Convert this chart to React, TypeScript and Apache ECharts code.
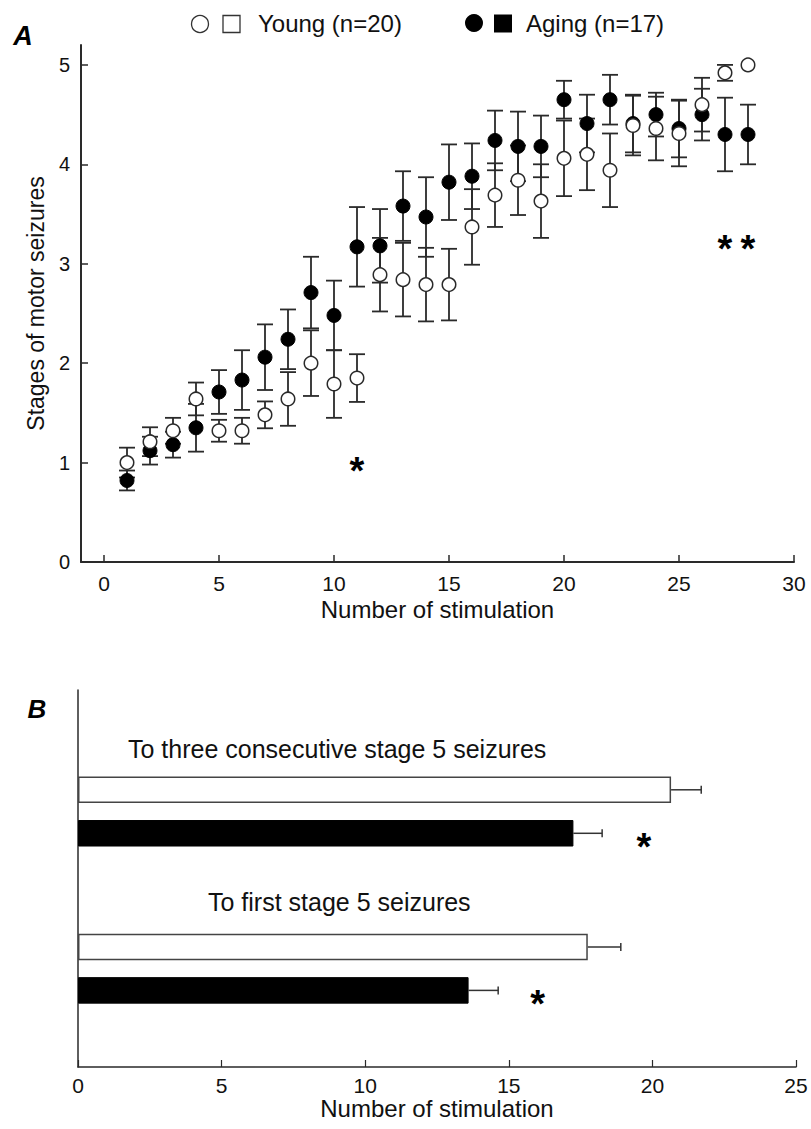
import React, { useEffect, useRef } from "react";
import * as echarts from "echarts";

// ---------- Panel A data ----------
const stimulations = [1, 2, 3, 4, 5, 6, 7, 8, 9, 10, 11, 12, 13, 14, 15, 16, 17, 18, 19, 20, 21, 22, 23, 24, 25, 26, 27, 28];
const youngMean = [1.0, 1.21, 1.32, 1.64, 1.32, 1.32, 1.48, 1.64, 2.0, 1.79, 1.85, 2.89, 2.84, 2.79, 2.79, 3.37, 3.69, 3.84, 3.63, 4.06, 4.1, 3.94, 4.39, 4.36, 4.31, 4.6, 4.92, 5.0];
const youngSem = [0.15, 0.145, 0.13, 0.165, 0.11, 0.13, 0.135, 0.27, 0.33, 0.34, 0.24, 0.37, 0.37, 0.37, 0.36, 0.38, 0.32, 0.35, 0.37, 0.38, 0.36, 0.37, 0.3, 0.32, 0.33, 0.27, 0.08, 0];
const agingMean = [0.82, 1.12, 1.18, 1.35, 1.71, 1.83, 2.06, 2.24, 2.71, 2.48, 3.17, 3.18, 3.58, 3.47, 3.82, 3.88, 4.24, 4.18, 4.18, 4.65, 4.41, 4.65, 4.41, 4.5, 4.36, 4.5, 4.3, 4.3];
const agingSem = [0.1, 0.14, 0.13, 0.24, 0.22, 0.3, 0.33, 0.3, 0.36, 0.35, 0.4, 0.37, 0.35, 0.4, 0.38, 0.33, 0.3, 0.35, 0.31, 0.19, 0.29, 0.25, 0.29, 0.22, 0.29, 0.26, 0.37, 0.3];
const starsA = [[11, 1.0], [27, 3.23], [28, 3.23]];
const xTicksA = [0, 5, 10, 15, 20, 25, 30];
const yTicksA = [0, 1, 2, 3, 4, 5];

// ---------- Panel B data ----------
const groupsB = ["To three consecutive stage 5 seizures", "To first stage 5 seizures"];
const youngB = [20.65, 17.75];
const youngBErr = [1.05, 1.15];
const agingB = [17.25, 13.6];
const agingBErr = [1.0, 1.03];
const starsBx = [19.7, 16.0];

const FONT = "'Liberation Sans', Arial, Helvetica, sans-serif";
const INK = "#2a2a2a";

export default function App() {
  const ref = useRef<HTMLDivElement>(null);
  useEffect(() => {
    document.body.style.margin = "0";
    const chart = echarts.init(ref.current!, null, { renderer: "svg" });

    const errA = (means: number[], sems: number[]) =>
      stimulations.map((s, i) => [s, means[i], sems[i]]);

    const errRender = (params: any, api: any) => {
      const x = api.value(0);
      const m = api.value(1);
      const e = api.value(2);
      if (!e) return { type: "group", children: [] };
      const top = api.coord([x, m + e]);
      const bot = api.coord([x, m - e]);
      const hw = 8;
      const st = { stroke: INK, lineWidth: 1.8 };
      return {
        type: "group",
        children: [
          { type: "line", shape: { x1: top[0], y1: top[1], x2: bot[0], y2: bot[1] }, style: st },
          { type: "line", shape: { x1: top[0] - hw, y1: top[1], x2: top[0] + hw, y2: top[1] }, style: st },
          { type: "line", shape: { x1: bot[0] - hw, y1: bot[1], x2: bot[0] + hw, y2: bot[1] }, style: st },
        ],
      };
    };

    const PAIR_OFFSET = 21.75;
    const errBRender = (sign: number) => (params: any, api: any) => {
      const v = api.value(0);
      const e = api.value(1);
      const c = api.value(2);
      const p0 = api.coord([v, c]);
      const p1 = api.coord([v + e, c]);
      const y = p0[1] + sign * PAIR_OFFSET;
      const st = { stroke: "#333", lineWidth: 1.5 };
      return {
        type: "group",
        children: [
          { type: "line", shape: { x1: p0[0], y1: y, x2: p1[0], y2: y }, style: st },
          { type: "line", shape: { x1: p1[0], y1: y - 4, x2: p1[0], y2: y + 4 }, style: st },
        ],
      };
    };

    const starStyle = (txt: string) => ({
      text: txt,
      fontSize: 38,
      fontWeight: "bold",
      fontFamily: FONT,
      fill: "#000",
      align: "center",
      verticalAlign: "middle",
    });

    const option: any = {
      animation: false,
      backgroundColor: "#fff",
      textStyle: { fontFamily: FONT },
      grid: [
        { left: 81, right: 17, top: 45, bottom: 567 },
        { left: 78, right: 15, top: 690, bottom: 62 },
        { left: 78, right: 15, top: 733, bottom: 81.8 },
      ],
      xAxis: [
        {
          gridIndex: 0,
          type: "value",
          min: -1,
          max: 30,
          splitLine: { show: false },
          axisLine: { onZero: false, lineStyle: { color: INK, width: 2 } },
          axisTick: { inside: true, length: 7, customValues: xTicksA, lineStyle: { color: INK, width: 1.5 } },
          axisLabel: { customValues: xTicksA, color: "#111", fontSize: 21, margin: 11 },
          name: "Number of stimulation",
          nameLocation: "middle",
          nameGap: 35,
          nameTextStyle: { fontSize: 24, color: "#111", fontFamily: FONT },
        },
        {
          gridIndex: 1,
          type: "value",
          min: 0,
          max: 25,
          interval: 5,
          splitLine: { show: false },
          axisLine: { onZero: false, lineStyle: { color: INK, width: 1.5 } },
          axisTick: { inside: true, length: 7, lineStyle: { color: INK, width: 1.2 } },
          axisLabel: { color: "#111", fontSize: 21, margin: 8 },
          name: "Number of stimulation",
          nameLocation: "middle",
          nameGap: 27,
          nameTextStyle: { fontSize: 24, color: "#111", fontFamily: FONT },
        },
        {
          gridIndex: 2,
          type: "value",
          min: 0,
          max: 25,
          show: false,
        },
      ],
      yAxis: [
        {
          gridIndex: 0,
          type: "value",
          min: 0,
          max: 5.2,
          splitLine: { show: false },
          axisLine: { show: true, onZero: false, lineStyle: { color: INK, width: 2 } },
          axisTick: { show: true, inside: true, length: 7, customValues: yTicksA, lineStyle: { color: INK, width: 1.5 } },
          axisLabel: { customValues: yTicksA, color: "#111", fontSize: 20, margin: 11 },
          name: "Stages of motor seizures",
          nameLocation: "middle",
          nameGap: 33,
          nameTextStyle: { fontSize: 23, color: "#111" },
        },
        {
          gridIndex: 1,
          type: "value",
          min: 0,
          max: 1,
          splitLine: { show: false },
          axisLine: { show: true, onZero: false, lineStyle: { color: INK, width: 1.5 } },
          axisTick: { show: false },
          axisLabel: { show: false },
        },
        {
          gridIndex: 2,
          type: "category",
          inverse: true,
          data: groupsB,
          show: false,
        },
      ],
      series: [
        {
          type: "custom",
          name: "Aging SEM",
          xAxisIndex: 0,
          yAxisIndex: 0,
          renderItem: errRender,
          data: errA(agingMean, agingSem),
          z: 1,
        },
        {
          type: "custom",
          name: "Young SEM",
          xAxisIndex: 0,
          yAxisIndex: 0,
          renderItem: errRender,
          data: errA(youngMean, youngSem),
          z: 1,
        },
        {
          type: "scatter",
          name: "Aging (n=17)",
          xAxisIndex: 0,
          yAxisIndex: 0,
          symbol: "circle",
          symbolSize: 14,
          itemStyle: { color: "#000", borderColor: "#000", borderWidth: 1, opacity: 1 },
          data: stimulations.map((s, i) => [s, agingMean[i]]),
          z: 3,
        },
        {
          type: "scatter",
          name: "Young (n=20)",
          xAxisIndex: 0,
          yAxisIndex: 0,
          symbol: "circle",
          symbolSize: 13.5,
          itemStyle: { color: "#fff", borderColor: INK, borderWidth: 1.5, opacity: 1 },
          data: stimulations.map((s, i) => [s, youngMean[i]]),
          z: 4,
        },
        {
          type: "custom",
          name: "Significance A",
          xAxisIndex: 0,
          yAxisIndex: 0,
          renderItem: (params: any, api: any) => {
            const p = api.coord([api.value(0), api.value(1)]);
            return { type: "text", x: p[0], y: p[1] + 8, style: starStyle("*") };
          },
          data: starsA,
          z: 5,
        },
        {
          type: "bar",
          name: "Young B",
          xAxisIndex: 2,
          yAxisIndex: 2,
          data: youngB,
          barWidth: 26.5,
          barGap: "64%",
          itemStyle: { color: "#fff", borderColor: "#444", borderWidth: 1.5 },
        },
        {
          type: "bar",
          name: "Aging B",
          xAxisIndex: 2,
          yAxisIndex: 2,
          data: agingB,
          barWidth: 26.5,
          barGap: "64%",
          itemStyle: { color: "#000", borderColor: "#000", borderWidth: 1 },
        },
        {
          type: "custom",
          name: "Young B SEM",
          xAxisIndex: 2,
          yAxisIndex: 2,
          renderItem: errBRender(-1),
          data: youngB.map((v, i) => [v, youngBErr[i], i]),
        },
        {
          type: "custom",
          name: "Aging B SEM",
          xAxisIndex: 2,
          yAxisIndex: 2,
          renderItem: errBRender(1),
          data: agingB.map((v, i) => [v, agingBErr[i], i]),
        },
        {
          type: "custom",
          name: "Significance B",
          xAxisIndex: 2,
          yAxisIndex: 2,
          renderItem: (params: any, api: any) => {
            const p = api.coord([api.value(0), api.value(1)]);
            return { type: "text", x: p[0], y: p[1] + PAIR_OFFSET + 6 + 8, style: starStyle("*") };
          },
          data: starsBx.map((x, i) => [x, i]),
        },
      ],
      graphic: [
        { type: "text", x: 23, y: 36, style: { text: "A", fontSize: 27, fontWeight: "bold", fontStyle: "italic", fontFamily: FONT, fill: "#000", align: "center", verticalAlign: "middle" } },
        { type: "text", x: 37, y: 709, style: { text: "B", fontSize: 26, fontWeight: "bold", fontStyle: "italic", fontFamily: FONT, fill: "#000", align: "center", verticalAlign: "middle" } },
        { type: "circle", shape: { cx: 200, cy: 24, r: 8.5 }, style: { fill: "#fff", stroke: "#333", lineWidth: 1.3 } },
        { type: "rect", shape: { x: 223, y: 15.5, width: 17, height: 17 }, style: { fill: "#fff", stroke: "#333", lineWidth: 1.3 } },
        { type: "text", x: 258, y: 23, style: { text: "Young (n=20)", fontSize: 24, fontFamily: FONT, fill: "#111", align: "left", verticalAlign: "middle" } },
        { type: "circle", shape: { cx: 474, cy: 23, r: 9 }, style: { fill: "#000" } },
        { type: "rect", shape: { x: 494, y: 14.5, width: 18, height: 18 }, style: { fill: "#000" } },
        { type: "text", x: 526, y: 23, style: { text: "Aging (n=17)", fontSize: 24, fontFamily: FONT, fill: "#111", align: "left", verticalAlign: "middle" } },
        { type: "text", x: 128, y: 749, style: { text: groupsB[0], fontSize: 25, fontFamily: FONT, fill: "#111", align: "left", verticalAlign: "middle" } },
        { type: "text", x: 208, y: 902, style: { text: groupsB[1], fontSize: 25, fontFamily: FONT, fill: "#111", align: "left", verticalAlign: "middle" } },
      ],
    };

    chart.setOption(option);
    return () => chart.dispose();
  }, []);
  return <div ref={ref} style={{ width: 811, height: 1129 }} />;
}
